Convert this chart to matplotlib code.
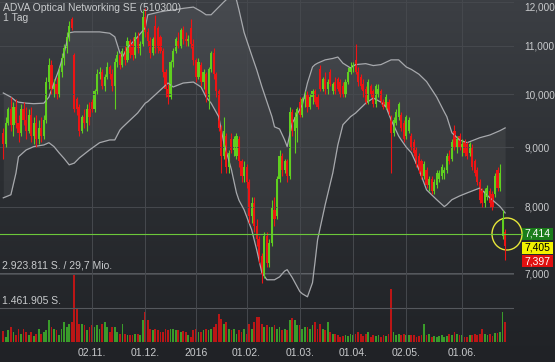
import matplotlib
matplotlib.use("Agg")
import matplotlib.pyplot as plt
import numpy as np
from matplotlib.colors import LinearSegmentedColormap
from matplotlib.patches import Ellipse, Rectangle
from matplotlib.ticker import NullLocator

plt.rcParams["font.family"] = ["Liberation Sans", "DejaVu Sans"]

# daily candles, 0 = first visible trading day (Sep 2015) ... 198 = 24.06.2016
opens = [9.25, 9.05, 9.45, 9.70, 9.40, 9.75, 9.45, 9.25, 9.70, 9.50,
         9.30, 9.60, 9.20, 9.45, 9.15, 9.35, 9.20, 9.50, 10.25, 10.60,
         10.10, 10.20, 10.00, 10.45, 10.75, 10.95, 11.20, 11.60, 10.80, 9.90,
         9.75, 9.30, 9.55, 9.45, 9.70, 9.85, 9.70, 10.05, 10.40, 10.45,
         10.15, 10.35, 10.55, 10.40, 10.15, 10.65, 10.80, 10.60, 10.90, 10.70,
         11.10, 11.05, 10.80, 11.20, 10.95, 11.05, 11.65, 11.30, 11.10, 10.85,
         11.45, 11.40, 11.20, 10.90, 10.45, 10.10, 9.95, 10.65, 10.90, 11.10,
         11.00, 11.35, 11.15, 11.10, 11.40, 11.05, 10.70, 10.35, 10.60, 10.25,
         10.40, 9.95, 10.50, 10.85, 10.40, 10.05, 9.35, 8.85, 9.20, 8.65,
         9.15, 8.95, 8.85, 9.15, 8.75, 8.50, 8.65, 8.40, 7.85, 8.05,
         7.70, 7.50, 7.25, 7.00, 7.55, 7.15, 7.45, 7.95, 7.85, 8.45,
         8.85, 8.60, 8.75, 8.50, 9.65, 9.30, 9.35, 9.85, 9.60, 9.90,
         10.00, 9.75, 9.95, 10.05, 9.95, 10.50, 10.10, 10.30, 10.10, 10.45,
         10.05, 10.25, 10.30, 10.25, 10.15, 10.00, 10.25, 10.45, 10.55, 10.70,
         10.45, 10.35, 10.20, 10.10, 9.85, 10.15, 10.05, 9.80, 10.00, 10.05,
         9.85, 9.75, 9.85, 9.55, 9.25, 9.45, 9.55, 9.60, 9.45, 9.20,
         9.30, 9.20, 9.10, 8.95, 8.85, 8.75, 8.50, 8.60, 8.35, 8.45,
         8.25, 8.35, 8.45, 8.50, 8.55, 8.60, 8.85, 8.80, 9.30, 9.00,
         9.20, 9.00, 9.10, 9.05, 8.90, 9.00, 8.75, 8.60, 8.40, 8.25,
         8.05, 8.15, 8.25, 8.20, 8.20, 8.60, 8.30, 7.55, 7.60]
highs = [9.35, 9.55, 9.75, 9.95, 9.85, 9.90, 9.60, 9.80, 9.85, 9.75,
         9.70, 9.75, 9.55, 9.60, 9.50, 9.55, 9.60, 10.35, 10.75, 10.70,
         10.30, 10.35, 10.55, 10.85, 11.05, 11.30, 11.55, 11.65, 10.85, 9.95,
         9.80, 9.60, 9.70, 9.80, 9.85, 9.90, 10.10, 10.50, 10.55, 10.50,
         10.40, 10.65, 10.60, 10.50, 10.75, 10.90, 10.85, 10.95, 11.00, 11.20,
         11.15, 11.20, 11.30, 11.30, 11.10, 11.80, 11.85, 11.40, 11.20, 11.20,
         11.70, 11.45, 11.25, 10.95, 10.50, 10.20, 10.70, 10.95, 11.20, 11.30,
         11.40, 11.45, 11.30, 11.25, 11.60, 11.15, 10.75, 10.75, 10.65, 10.50,
         10.45, 10.55, 10.90, 10.95, 10.45, 10.10, 9.40, 9.55, 9.25, 8.95,
         9.25, 9.20, 9.25, 9.20, 8.80, 8.75, 8.70, 8.45, 8.15, 8.15,
         7.80, 7.55, 7.30, 7.60, 7.60, 7.50, 8.10, 8.15, 8.50, 8.95,
         8.90, 8.80, 8.80, 9.75, 9.70, 9.65, 9.75, 9.95, 9.95, 10.05,
         10.05, 10.00, 10.10, 10.10, 10.00, 10.60, 10.35, 10.45, 10.30, 10.50,
         10.25, 10.35, 10.35, 10.30, 10.25, 10.30, 10.55, 10.65, 10.65, 11.05,
         10.55, 10.40, 10.30, 10.15, 10.30, 10.20, 10.10, 10.20, 10.20, 10.10,
         9.90, 10.00, 9.90, 9.60, 9.55, 9.70, 9.85, 9.65, 9.50, 9.60,
         9.55, 9.25, 9.15, 9.00, 8.90, 8.80, 8.75, 8.65, 8.50, 8.50,
         8.45, 8.60, 8.60, 8.70, 8.65, 8.90, 8.95, 9.15, 9.40, 9.20,
         9.25, 9.15, 9.15, 9.10, 9.10, 9.05, 8.80, 8.65, 8.45, 8.30,
         8.30, 8.35, 8.30, 8.25, 8.55, 8.65, 8.70, 7.95, 7.65]
lows = [8.80, 9.00, 9.40, 9.30, 9.20, 9.35, 9.10, 9.20, 9.40, 9.15,
        9.25, 9.10, 9.05, 9.00, 9.05, 9.10, 9.15, 9.45, 10.10, 10.00,
        9.95, 9.90, 9.95, 10.35, 10.60, 10.85, 11.10, 11.35, 9.65, 9.60,
        9.20, 9.25, 9.35, 9.30, 9.40, 9.65, 9.65, 10.00, 10.30, 10.10,
        10.05, 10.30, 10.30, 10.05, 9.70, 10.55, 10.50, 10.55, 10.60, 10.65,
        10.75, 10.70, 10.75, 10.85, 10.80, 11.00, 11.20, 11.00, 10.75, 10.80,
        10.85, 10.85, 10.85, 10.35, 9.95, 9.80, 9.90, 10.55, 10.85, 10.95,
        10.95, 11.05, 11.00, 11.00, 10.95, 10.60, 10.25, 10.30, 10.15, 10.10,
        9.85, 9.70, 10.45, 10.30, 9.95, 9.30, 8.55, 8.80, 8.55, 8.55,
        8.90, 8.85, 8.80, 8.65, 8.40, 8.40, 8.30, 7.75, 7.75, 7.60,
        7.40, 7.15, 6.88, 6.95, 7.10, 7.10, 7.40, 7.70, 7.80, 8.40,
        8.50, 8.55, 8.40, 8.45, 9.20, 8.90, 9.10, 9.55, 9.55, 9.75,
        9.65, 9.70, 9.80, 9.80, 9.70, 10.05, 10.05, 10.00, 10.00, 10.15,
        10.00, 10.00, 10.05, 9.95, 9.95, 9.95, 10.20, 10.40, 10.45, 10.40,
        10.15, 10.10, 9.95, 9.80, 9.80, 9.95, 9.75, 9.75, 9.95, 9.80,
        9.70, 9.70, 9.60, 8.55, 9.20, 9.40, 9.50, 9.30, 9.10, 9.15,
        9.25, 8.95, 8.85, 8.65, 8.55, 8.45, 8.45, 8.30, 8.25, 8.20,
        8.20, 8.30, 8.40, 8.45, 8.45, 8.55, 8.70, 8.75, 8.95, 8.90,
        8.95, 8.85, 8.85, 8.80, 8.85, 8.60, 8.50, 8.35, 8.05, 8.00,
        8.00, 8.10, 8.00, 7.95, 8.15, 8.25, 8.25, 7.50, 7.20]
closes = [9.05, 9.45, 9.70, 9.40, 9.75, 9.45, 9.25, 9.70, 9.50, 9.30,
          9.60, 9.20, 9.45, 9.15, 9.35, 9.20, 9.50, 10.25, 10.60, 10.10,
          10.20, 10.00, 10.45, 10.75, 10.95, 11.20, 11.45, 11.40, 9.70, 9.70,
          9.30, 9.55, 9.45, 9.70, 9.55, 9.70, 10.05, 10.40, 10.45, 10.15,
          10.35, 10.55, 10.40, 10.15, 10.65, 10.80, 10.60, 10.90, 10.70, 11.10,
          10.85, 10.80, 11.20, 10.95, 11.05, 11.65, 11.30, 11.10, 10.85, 11.15,
          10.95, 10.95, 10.90, 10.45, 10.10, 9.95, 10.65, 10.90, 11.15, 11.00,
          11.35, 11.15, 11.10, 11.15, 11.05, 10.70, 10.35, 10.65, 10.25, 10.45,
          9.95, 10.50, 10.85, 10.40, 10.05, 9.35, 8.85, 9.30, 8.65, 8.90,
          8.95, 9.15, 9.20, 8.75, 8.50, 8.65, 8.40, 7.85, 8.05, 7.70,
          7.50, 7.25, 6.98, 7.55, 7.15, 7.45, 8.00, 7.80, 8.45, 8.85,
          8.60, 8.75, 8.50, 9.65, 9.30, 9.55, 9.70, 9.60, 9.90, 10.00,
          9.75, 9.95, 10.05, 9.85, 9.75, 10.10, 10.30, 10.10, 10.25, 10.20,
          10.20, 10.05, 10.10, 10.00, 10.00, 10.25, 10.45, 10.55, 10.60, 10.45,
          10.25, 10.15, 10.05, 9.85, 10.25, 10.00, 9.80, 10.15, 10.10, 9.85,
          9.75, 9.95, 9.65, 9.25, 9.50, 9.65, 9.80, 9.35, 9.15, 9.55,
          9.50, 9.00, 8.90, 8.70, 8.60, 8.50, 8.70, 8.35, 8.45, 8.25,
          8.40, 8.55, 8.55, 8.65, 8.60, 8.85, 8.75, 9.10, 9.00, 9.15,
          9.00, 9.05, 8.90, 8.85, 9.05, 8.65, 8.55, 8.40, 8.10, 8.05,
          8.25, 8.30, 8.05, 8.00, 8.50, 8.30, 8.55, 7.80, 7.405]

# volume in thousand shares
volume_k = [450, 210, 490, 635, 420, 280, 565, 350, 565, 420,
            280, 420, 240, 350, 565, 350, 420, 490, 945, 635,
            565, 490, 280, 565, 850, 635, 775, 850, 2924, 1440,
            775, 775, 705, 490, 635, 705, 635, 705, 565, 775,
            850, 635, 420, 635, 635, 420, 350, 775, 350, 280,
            280, 280, 325, 350, 280, 915, 1270, 945, 565, 490,
            565, 490, 420, 420, 565, 490, 565, 565, 490, 490,
            420, 450, 420, 280, 210, 490, 565, 420, 420, 490,
            565, 490, 565, 635, 775, 1200, 990, 775, 850, 565,
            490, 565, 350, 490, 420, 565, 350, 775, 565, 850,
            1060, 1060, 775, 635, 705, 635, 635, 705, 565, 635,
            490, 565, 490, 915, 1030, 915, 705, 705, 565, 635,
            635, 565, 705, 850, 565, 775, 565, 490, 850, 420,
            350, 325, 280, 210, 240, 280, 240, 325, 280, 350,
            420, 350, 240, 325, 420, 210, 280, 240, 280, 210,
            280, 240, 325, 2260, 420, 280, 350, 280, 350, 280,
            280, 280, 280, 210, 240, 280, 775, 280, 325, 210,
            240, 210, 240, 280, 210, 240, 325, 280, 420, 350,
            280, 280, 210, 210, 280, 280, 325, 280, 350, 565,
            350, 280, 350, 240, 380, 380, 420, 1270, 850]

# Bollinger bands
band_idx = [0, 3, 5, 6, 9, 12, 16, 18, 20, 22, 24, 26, 28, 30, 34, 38, 42, 44,
            46, 47, 49, 53, 56, 57, 62, 65, 67, 71, 75, 78, 80, 82, 85, 87, 90,
            92, 93, 95, 98, 100, 102, 104, 106, 107, 109, 111, 112, 114, 117,
            118, 120, 122, 123, 124, 127, 130, 132, 134, 137, 139, 143, 146,
            149, 151, 153, 156, 157, 159, 161, 164, 167, 171, 174, 175, 177,
            180, 183, 188, 192, 196, 198]
band_upper = [10.02, 9.94, 9.86, 9.84, 9.82, 9.81, 9.82, 9.94, 10.22, 10.50,
              10.85, 11.29, 11.31, 11.31, 11.31, 11.31, 11.28, 11.20, 10.85,
              10.76, 10.96, 11.20, 11.40, 11.70, 11.77, 11.80, 11.81, 11.85,
              11.88, 11.78, 11.70, 11.70, 11.88, 12.00, 12.17, 12.05, 11.81,
              11.30, 10.80, 10.49, 10.15, 9.85, 9.56, 9.37, 9.33, 9.13, 9.01,
              9.44, 9.70, 9.79, 10.22, 10.55, 10.60, 10.63, 10.70, 10.73,
              10.76, 10.63, 10.53, 10.60, 10.62, 10.58, 10.60, 10.65, 10.70,
              10.70, 10.65, 10.55, 10.50, 10.40, 10.25, 9.94, 9.65, 9.56,
              9.26, 9.13, 9.08, 9.17, 9.22, 9.30, 9.35]
band_lower = [8.14, 8.19, 8.55, 8.83, 8.95, 9.01, 9.04, 9.08, 9.01, 8.90,
              8.80, 8.69, 8.72, 8.81, 8.95, 9.08, 9.13, 9.13, 9.31, 9.36,
              9.45, 9.63, 9.82, 9.85, 10.08, 10.22, 10.14, 10.22, 10.24,
              10.14, 9.94, 9.82, 9.56, 9.08, 8.61, 8.22, 8.10, 7.95, 7.64,
              7.34, 7.02, 6.92, 6.92, 6.92, 6.96, 7.04, 7.06, 6.95, 6.76,
              6.73, 6.69, 6.88, 7.17, 7.49, 8.03, 8.55, 9.04, 9.41, 9.56,
              9.63, 9.82, 9.92, 9.84, 9.75, 9.50, 9.20, 9.13, 9.00, 8.90,
              8.61, 8.27, 8.11, 8.00, 8.03, 8.11, 8.17, 8.22, 8.30, 8.14,
              8.00, 7.90]

price_ticks = [7, 8, 9, 10, 11, 12]
price_tick_labels = ["7,000", "8,000", "9,000", "10,000", "11,000", "12,000"]
date_idx = [35, 56, 76, 96, 117, 138, 159, 181]
date_labels = ["02.11.", "01.12.", "2016", "01.02.", "01.03.", "01.04.", "02.05.", "01.06."]
prev_close = 7.58
quote_values = ["7,414", "7,405", "7,397"]
vol_max = 2923811

W, H = 555, 362
GREEN, RED = "#5fcf1f", "#ee1414"
VGREEN, VRED = "#3a9c2a", "#bb1616"
TXT = "#c9cbcd"
GRID = "#46494e"

fig = plt.figure(figsize=(W / 100, H / 100), dpi=100)

# dark gradient background
bg = fig.add_axes([0, 0, 1, 1], zorder=-10)
cmap = LinearSegmentedColormap.from_list("bg", ["#3c3f44", "#2b2e32", "#202226"])
bg.imshow(np.linspace(0, 1, 256)[:, None], aspect="auto", cmap=cmap,
          extent=[0, 1, 0, 1])
bg.axis("off")

box = [0, 20 / H, 514 / W, 342 / H]
ax = fig.add_axes(box, zorder=2)
ax.set_facecolor("none")
vax = fig.add_axes([0, 20 / H, 514 / W, 69 / H], zorder=1)
vax.set_facecolor("none")

x = np.arange(len(closes))
o, h, l, c = map(np.array, (opens, highs, lows, closes))
up = c >= o
cols = np.where(up, GREEN, RED)

ax.set_yscale("log")
ax.set_xlim(-1.3, 201.5)
ax.set_ylim(6.117, 12.048)

ax.fill_between(band_idx, band_lower, band_upper, color="white", alpha=0.06, lw=0)
ax.plot(band_idx, band_upper, color="#a7a9ad", lw=0.9)
ax.plot(band_idx, band_lower, color="#a7a9ad", lw=0.9)

ax.vlines(x, l, h, colors=cols, lw=0.8)
ax.bar(x, np.maximum(np.abs(c - o), 0.01), bottom=np.minimum(o, c),
       width=0.85, color=cols, lw=0)

ax.set_yticks(price_ticks)
ax.set_yticklabels(price_tick_labels)
ax.yaxis.set_minor_locator(NullLocator())
ax.yaxis.tick_right()
ax.set_xticks(date_idx)
ax.set_xticklabels(date_labels)
ax.tick_params(axis="y", length=0, pad=7.5, labelsize=7.2, labelcolor=TXT)
ax.tick_params(axis="x", length=0, pad=4, labelsize=7.5, labelcolor=TXT)
ax.grid(True, color=GRID, lw=0.7)
for s in ax.spines.values():
    s.set_visible(False)
for t in ax.get_yticklabels():
    t.set_horizontalalignment("left")
# top label sits just under the figure edge
ax.get_yticklabels()[-1].set_verticalalignment("top")

# previous close line, runs into the quote boxes
xr = (522 - 3.3) / 2.534
ax.plot([-1.3, xr], [prev_close, prev_close], color="#6cc83a", lw=0.8, clip_on=False)

# volume panel
vcols = np.where(up, VGREEN, VRED)
vax.bar(x, np.array(volume_k) * 1000, width=0.7, color=vcols, lw=0)
vax.set_xlim(-1.3, 201.5)
vax.set_ylim(0, vol_max)
vax.axhline(vol_max, color="#55585d", lw=0.8)
vax.axhline(vol_max / 2, color="#55585d", lw=0.8)
vax.axis("off")

fig.text(2 / W, 1 - 266 / H, "2.923.811 S. / 29,7 Mio.", color=TXT,
         fontsize=7.5, va="center", ha="left")
fig.text(2 / W, 1 - 301 / H, "1.461.905 S.", color=TXT,
         fontsize=7.5, va="center", ha="left")

fig.text(3 / W, 1 - 8 / H, "ADVA Optical Networking SE (510300)", color=TXT,
         fontsize=7.5, va="center", ha="left")
fig.text(3 / W, 1 - 18 / H, "1 Tag", color=TXT, fontsize=7.5, va="center", ha="left")

# quote boxes
box_style = [("#1b7d1b", "white", 228), ("#f2f200", "black", 242), ("#e01010", "white", 255)]
for val, (fc, tc, top) in zip(quote_values, box_style):
    fig.add_artist(Rectangle((522 / W, 1 - (top + 12) / H), 31 / W, 12 / H,
                             transform=fig.transFigure, facecolor=fc, lw=0))
    fig.text(537.5 / W, 1 - (top + 6) / H, val, color=tc, fontsize=7.5,
             ha="center", va="center")

fig.add_artist(Ellipse((507 / W, 1 - 234 / H), 30 / W, 32 / H,
                       transform=fig.transFigure, fill=False,
                       edgecolor="#e6e63a", lw=1.0))

fig.savefig("out.png", dpi=100)
